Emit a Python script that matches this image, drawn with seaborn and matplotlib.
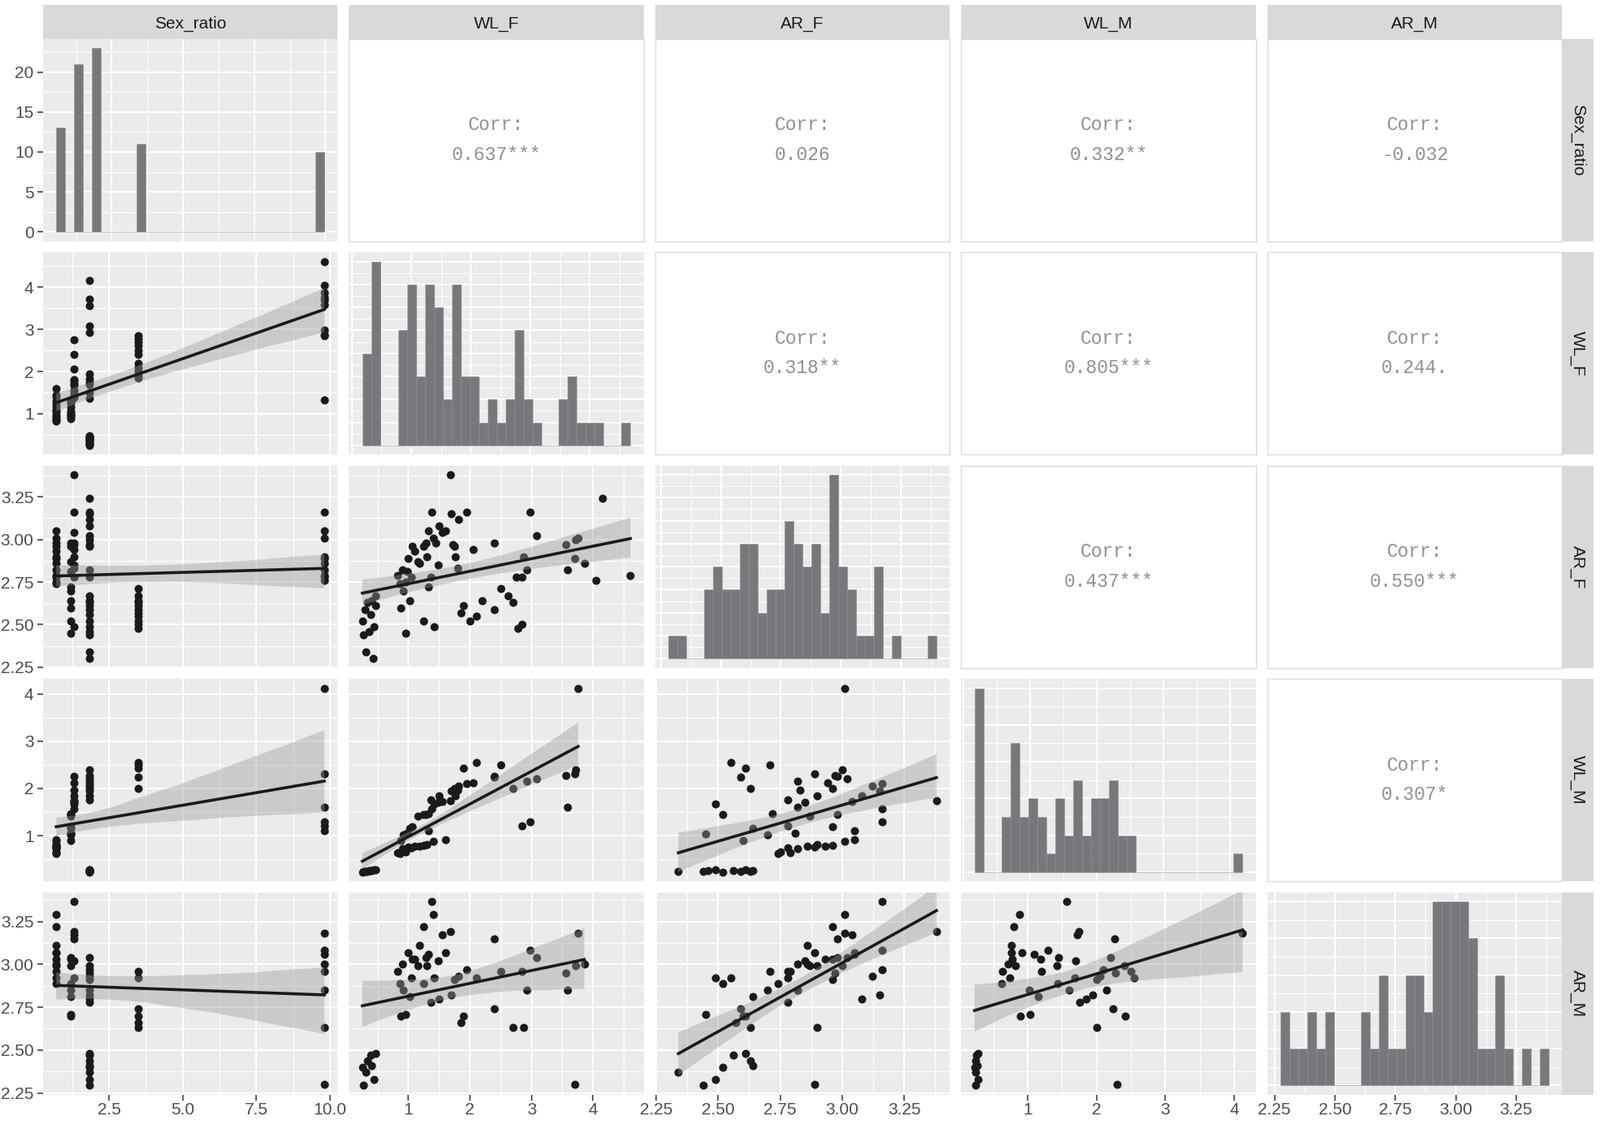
import numpy as np
import pandas as pd
import matplotlib
matplotlib.use('Agg')
import matplotlib.pyplot as plt
import seaborn as sns
from matplotlib.ticker import MultipleLocator, AutoMinorLocator, FormatStrFormatter, MaxNLocator

nan = np.nan

# data, grouped by sex ratio value
sex_ratio = [0.71] * 13 + [1.2] * 10 + [1.32] * 11 + [1.83] * 23 + [3.5] * 11 + [9.8] * 10

wl_f = [0.82, 0.86, 0.90, 0.95, 1.00, 1.05, 1.10, 1.18, 1.25, 1.30, 1.40, 1.45, 1.60,
        0.88, 0.92, 0.96, 0.98, 1.02, 1.06, 1.15, 1.24, 1.28, 1.32, 1.38, 1.42, 1.48, 1.55,
        1.68, 1.72, 1.76, 1.80, 2.05, 2.40, 2.75,
        0.25, 0.27, 0.29, 0.31, 0.34, 0.36, 0.38, 0.40, 0.42, 0.44, 0.46, 0.47,
        4.16, 3.72, 3.56, 3.08, 2.92, 1.95, 1.82, 1.75, 1.70, 1.50, 1.36,
        1.85, 1.90, 2.00, 2.10, 2.20, 2.40, 2.50, 2.62, 2.70, 2.78, 2.85,
        4.61, 4.05, 3.86, 3.76, 3.70, 3.58, 2.98, 2.87, 2.84, 1.33]

ar_f = [2.79, 2.74, 2.82, 2.75, 2.89, 2.78, 2.93, 2.86, 2.96, 2.90, 3.01, 2.98, 3.05,
        2.60, 2.70, 2.45, 2.81, 2.64, 2.96, 2.87, 2.52, 2.98, 2.72, 3.16, 2.49, 2.85, 3.04,
        3.38, 2.97, 2.90, 2.83, 2.94, 2.98, 2.78,
        2.52, 2.44, 2.59, 2.34, 2.63, 2.46, 2.56, 2.64, 2.30, 2.49, 2.61, 2.67,
        3.24, 3.00, 2.97, 3.02, 2.82, 3.16, 3.12, 2.96, 3.15, 3.08, 2.78,
        2.57, 2.61, 2.52, 2.55, 2.64, 2.59, 2.71, 2.67, 2.63, 2.48, 2.50,
        2.79, 2.76, 2.86, 3.01, 2.89, 2.82, 3.16, 2.90, 2.78, 3.05]

wl_m = [0.64, 0.62, 0.72, 0.66, 0.76, 0.74, 0.78, 0.77, 0.80, 0.82, 0.88, nan, 0.92,
        0.90, 1.02, 1.04, 1.06, 1.15, 1.19, 1.42, 1.44, 1.45, 1.47, 1.57, 1.68, 1.70, 1.72,
        1.74, nan, 1.84, 1.97, 2.11, 2.26, nan,
        0.23, 0.24, 0.24, 0.25, 0.25, 0.26, 0.26, 0.27, nan, 0.28, 0.28, nan,
        nan, 2.40, 2.28, 2.20, 2.15, 2.10, 2.05, 2.00, 1.95, 1.85, 1.75,
        nan, 2.42, nan, 2.55, nan, 2.24, 2.50, nan, 2.00, nan, nan,
        nan, nan, nan, 4.12, 2.30, 1.60, 1.30, nan, 1.20, 1.10]

ar_m = [2.96, 2.89, 3.00, nan, 3.07, 2.92, 3.03, 3.11, 3.22, 2.99, 3.29, nan, 3.07,
        2.70, 2.85, 2.71, nan, 2.81, 3.03, 2.99, 2.89, 3.04, nan, 3.366, 2.92, 3.02, 3.17,
        3.19, nan, nan, nan, nan, 3.15, nan,
        2.40, 2.294, nan, 2.37, 2.44, nan, 2.47, 2.41, nan, 2.33, 2.48, nan,
        nan, 2.99, 2.95, 3.04, 2.85, 2.97, 2.93, 2.91, 2.82, 2.80, 2.78,
        2.66, 2.70, nan, 2.92, nan, 2.74, 2.96, nan, 2.63, nan, nan,
        nan, nan, 3.00, 3.18, 2.30, 2.85, 3.08, 2.63, 2.96, 3.06]

variables = ['Sex_ratio', 'WL_F', 'AR_F', 'WL_M', 'AR_M']

# correlation labels as printed in the upper panels
corr_labels = {(0, 1): '0.637***', (0, 2): '0.026', (0, 3): '0.332**', (0, 4): '-0.032',
               (1, 2): '0.318**', (1, 3): '0.805***', (1, 4): '0.244.',
               (2, 3): '0.437***', (2, 4): '0.550***',
               (3, 4): '0.307*'}

major_step = {'Sex_ratio': 2.5, 'WL_F': 1, 'AR_F': 0.25, 'WL_M': 1, 'AR_M': 0.25}
tick_fmt = {'Sex_ratio': '%.1f', 'WL_F': '%d', 'AR_F': '%.2f', 'WL_M': '%d', 'AR_M': '%.2f'}

df = pd.DataFrame({'Sex_ratio': sex_ratio, 'WL_F': wl_f, 'AR_F': ar_f,
                   'WL_M': wl_m, 'AR_M': ar_m})

plt.rcParams['font.family'] = ['Liberation Sans', 'DejaVu Sans']

W, H = 1968, 1384
fig = plt.figure(figsize=(W / 100, H / 100), dpi=100)
fig.patch.set_facecolor('white')

left0, colw, gap = 52.7, 362.7, 13.8
top0, rowh, rgap = 47.7, 249.0, 13.5

panel_bg = '#EBEBEB'
tick_col = '#4D4D4D'
bar_col = '#77787C'


def box(i, j):
    x = left0 + j * (colw + gap)
    y = top0 + i * (rowh + rgap)
    return [x / W, 1 - (y + rowh) / H, colw / W, rowh / H]


def lims(v, pad=0.0):
    lo, hi = np.nanmin(v) - pad, np.nanmax(v) + pad
    r = hi - lo
    return lo - 0.05 * r, hi + 0.05 * r


def style_grid(ax):
    ax.set_facecolor(panel_bg)
    ax.set_axisbelow(True)
    ax.grid(which='major', color='white', linewidth=1.5)
    ax.grid(which='minor', color='white', linewidth=0.75)
    for s in ax.spines.values():
        s.set_visible(False)


for i, yv in enumerate(variables):
    for j, xv in enumerate(variables):
        ax = fig.add_axes(box(i, j))

        if i < j:
            # upper panel: correlation text
            ax.set_facecolor('white')
            for s in ax.spines.values():
                s.set_color('#DADADA')
                s.set_linewidth(1.0)
            ax.set_xticks([])
            ax.set_yticks([])
            ax.text(0.5, 0.5, 'Corr:\n' + corr_labels[(i, j)], ha='center', va='center',
                    transform=ax.transAxes, family=['Liberation Mono', 'DejaVu Sans Mono'],
                    fontsize=16.5, color='#909090', linespacing=1.75)
            continue

        style_grid(ax)

        if i == j:
            # diagonal: histogram with 30 bins like ggplot
            v = df[xv].dropna().values
            w = (v.max() - v.min()) / 29
            edges = v.min() - w / 2 + w * np.arange(31)
            sns.histplot(x=v, bins=edges, ax=ax, color=bar_col, alpha=1,
                         edgecolor='#8C8D90', linewidth=0.4)
            counts, _ = np.histogram(v, bins=edges)
            ax.set_xlim(lims(v, w / 2))
            ax.set_ylim(-0.05 * counts.max(), 1.05 * counts.max())
            ax.yaxis.set_major_locator(MaxNLocator(integer=True, steps=[1, 2, 2.5, 5, 10]))
            ax.yaxis.set_minor_locator(AutoMinorLocator(2))
            ax.yaxis.set_major_formatter(FormatStrFormatter('%d'))
        else:
            # lower panel: points + linear fit with confidence band
            sub = df[[xv, yv]].dropna()
            ax.scatter(sub[xv], sub[yv], s=52, color='#1A1A1A', linewidths=0, zorder=2)
            n_before = len(ax.collections)
            sns.regplot(data=sub, x=xv, y=yv, ax=ax, scatter=False, ci=95, seed=3,
                        n_boot=2000, color='#1A1A1A', truncate=True,
                        line_kws={'linewidth': 2.6, 'zorder': 4})
            for coll in ax.collections[n_before:]:
                coll.set_facecolor('#999999')
                coll.set_alpha(0.4)
                coll.set_edgecolor('none')
                coll.set_zorder(3)
            ax.set_xlim(lims(df[xv]))
            ax.set_ylim(lims(df[yv]))
            ax.yaxis.set_major_locator(MultipleLocator(major_step[yv]))
            ax.yaxis.set_minor_locator(MultipleLocator(major_step[yv] / 2))
            ax.yaxis.set_major_formatter(FormatStrFormatter(tick_fmt[yv]))

        ax.xaxis.set_major_locator(MultipleLocator(major_step[xv]))
        ax.xaxis.set_minor_locator(MultipleLocator(major_step[xv] / 2))
        ax.xaxis.set_major_formatter(FormatStrFormatter(tick_fmt[xv]))
        ax.set_xlabel('')
        ax.set_ylabel('')

        ax.tick_params(which='both', length=0, labelleft=False, labelbottom=False)
        if j == 0:
            ax.tick_params(axis='y', which='major', length=5, width=1.1, color='#333333',
                           labelleft=True, labelsize=15, labelcolor=tick_col, pad=3)
        if i == 4:
            ax.tick_params(axis='x', which='major', length=5, width=1.1, color='#333333',
                           labelbottom=True, labelsize=15, labelcolor=tick_col, pad=2)

# facet strips: top for columns, right for rows
strip_top, strip_right = 6.3, 1921.4
for j, name in enumerate(variables):
    x = left0 + j * (colw + gap)
    sax = fig.add_axes([x / W, 1 - top0 / H, colw / W, (top0 - strip_top) / H])
    sax.set_facecolor('#D9D9D9')
    sax.set_xticks([])
    sax.set_yticks([])
    for s in sax.spines.values():
        s.set_visible(False)
    sax.text(0.5, 0.45, name, ha='center', va='center', transform=sax.transAxes,
             fontsize=15, color='#1A1A1A')

for i, name in enumerate(variables):
    y = top0 + i * (rowh + rgap)
    sax = fig.add_axes([strip_right / W, 1 - (y + rowh) / H, 38.6 / W, rowh / H])
    sax.set_facecolor('#D9D9D9')
    sax.set_xticks([])
    sax.set_yticks([])
    for s in sax.spines.values():
        s.set_visible(False)
    sax.text(0.5, 0.5, name, ha='center', va='center', transform=sax.transAxes,
             fontsize=15, color='#1A1A1A', rotation=270)

fig.savefig('out.png', dpi=100)
